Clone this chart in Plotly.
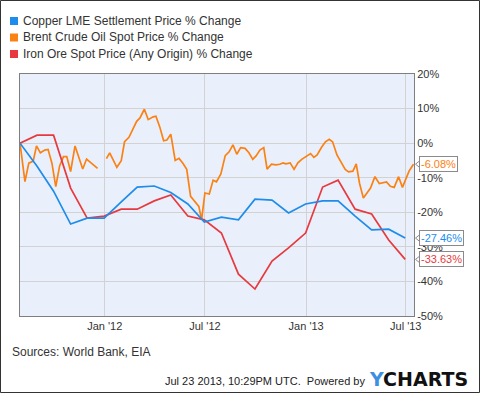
import plotly.graph_objects as go

# ---------------- data ----------------
series_names = [
    "Copper LME Settlement Price % Change",
    "Brent Crude Oil Spot Price % Change",
    "Iron Ore Spot Price (Any Origin) % Change",
]
series_colors = ["#1e8ceb", "#fb8113", "#e7393e"]

monthly_dates = [
    "2011-07-31", "2011-08-31", "2011-09-30", "2011-10-31", "2011-11-30", "2011-12-31",
    "2012-01-31", "2012-02-29", "2012-03-31", "2012-04-30", "2012-05-31", "2012-06-30",
    "2012-07-31", "2012-08-31", "2012-09-30", "2012-10-31", "2012-11-30", "2012-12-31",
    "2013-01-31", "2013-02-28", "2013-03-31", "2013-04-30", "2013-05-31", "2013-06-30",
]
copper_pct = [
    0.0, -6.7, -13.9, -23.4, -21.7, -21.7, -17.0, -12.7, -12.4, -14.3, -17.6, -22.8,
    -21.4, -22.2, -16.2, -16.5, -20.2, -17.6, -16.7, -16.7, -21.1, -25.1, -24.9, -27.46,
]
iron_pct = [
    0.0, 2.3, 2.3, -13.0, -21.7, -21.1, -19.1, -19.1, -16.7, -15.0, -21.1, -22.2,
    -26.0, -37.9, -42.2, -34.1, -30.3, -26.0, -12.7, -10.7, -19.1, -20.5, -28.0, -33.63,
]

brent_dates = [
    "2011-07-31", "2011-08-09", "2011-08-16", "2011-08-24", "2011-08-30", "2011-09-06",
    "2011-09-14", "2011-09-20", "2011-09-27", "2011-10-04", "2011-10-11", "2011-10-18",
    "2011-10-24", "2011-10-31", "2011-11-08", "2011-11-15", "2011-11-22", "2011-11-29",
    "2011-12-08", "2011-12-19", "2011-12-27",
    "2012-01-04", "2012-01-10", "2012-01-23", "2012-01-31", "2012-02-06", "2012-02-14",
    "2012-02-28", "2012-03-05", "2012-03-13", "2012-03-20", "2012-03-29", "2012-04-03",
    "2012-04-10", "2012-04-17", "2012-04-23", "2012-04-30", "2012-05-08", "2012-05-15",
    "2012-05-22", "2012-05-29", "2012-06-05", "2012-06-13", "2012-06-20", "2012-06-25",
    "2012-07-01", "2012-07-09", "2012-07-16", "2012-07-22", "2012-07-30", "2012-08-07",
    "2012-08-14", "2012-08-21", "2012-08-28", "2012-09-04", "2012-09-12", "2012-09-19",
    "2012-09-26", "2012-10-02", "2012-10-09", "2012-10-16", "2012-10-22", "2012-10-30",
    "2012-11-07", "2012-11-14", "2012-11-20", "2012-11-25", "2012-12-03", "2012-12-10",
    "2012-12-17", "2012-12-24", "2013-01-01", "2013-01-09", "2013-01-15", "2013-01-21",
    "2013-01-29", "2013-02-05", "2013-02-12", "2013-02-18", "2013-02-26", "2013-03-06",
    "2013-03-13", "2013-03-19", "2013-03-27", "2013-04-02", "2013-04-08", "2013-04-15",
    "2013-04-22", "2013-04-28", "2013-05-06", "2013-05-14", "2013-05-27", "2013-06-03",
    "2013-06-10", "2013-06-18", "2013-06-25", "2013-07-07", "2013-07-15",
]
brent_pct = [
    0.0, -11.1, -5.8, -5.2, -0.8, -2.8,
    -2.0, -1.8, -5.8, -12.6, -6.6, -3.9,
    -3.9, -8.2, -0.8, -3.9, -7.5, -4.6,
    -5.8, -7.3, None,
    -4.5, -2.8, -7.0, -5.1, 0.4, 1.7,
    6.3, 7.3, 9.8, 6.8, 7.6, 7.8,
    4.7, 0.7, 0.9, 2.6, -5.0, -4.4,
    -5.8, -7.6, -15.4, -17.0, -18.3, -22.2,
    -14.4, -14.7, -10.7, -11.2, -8.9, -3.6,
    -2.5, -0.5, -3.2, -1.3, -1.5, -2.8,
    -4.7, -3.7, -2.0, -1.3, -7.5, -6.1,
    -6.3, -6.1, -5.7, -6.0, -5.7, -7.6,
    -5.7, -4.7, -3.9, -3.0, -4.1, -3.4,
    -1.2, 0.4, 1.1, 0.4, -3.4, -5.8,
    -7.6, -8.3, -8.1, -6.0, -11.6, -15.9,
    -14.4, -13.0, -9.7, -11.7, -11.2, -12.5,
    -12.8, -9.7, -12.8, -8.1, -6.08,
]

y_ticks = [20, 10, 0, -10, -20, -30, -40, -50]
x_tick_dates = ["2012-01-01", "2012-07-01", "2013-01-01", "2013-07-01"]
x_tick_labels = ["Jan '12", "Jul '12", "Jan '13", "Jul '13"]
source_text = "Sources: World Bank, EIA"
footer_text = "Jul 23 2013, 10:29PM UTC.  Powered by"

# ---------------- layout geometry ----------------
W, H = 480, 393
ML, MR, MT, MB = 20, 66, 74, 77
PW, PH = W - ML - MR, H - MT - MB
FONT = "Liberation Sans, Arial, sans-serif"


def px(xp):
    return (xp - ML) / PW


def py(yp):
    return (H - MB - yp) / PH


fig = go.Figure()
series = [
    (monthly_dates, copper_pct),
    (brent_dates, brent_pct),
    (monthly_dates, iron_pct),
]
# draw order: brent under, then iron, copper
for i in [1, 2, 0]:
    xs, ys = series[i]
    fig.add_trace(go.Scatter(
        x=xs, y=ys, mode="lines", name=series_names[i],
        line=dict(color=series_colors[i], width=1.7),
        connectgaps=False, showlegend=False,
    ))

shapes = []
annotations = []

# custom legend (square swatches + labels)
legend_y = [21, 37.5, 54]
for i, name in enumerate(series_names):
    yc = legend_y[i]
    shapes.append(dict(type="rect", xref="paper", yref="paper",
                       x0=px(10), x1=px(18), y0=py(yc + 4), y1=py(yc - 4),
                       fillcolor=series_colors[i], line=dict(width=0)))
    annotations.append(dict(text=name, xref="paper", yref="paper",
                            x=px(21), y=py(yc), xanchor="left", yanchor="middle",
                            showarrow=False, font=dict(family=FONT, size=12, color="#333333")))

# end-value callouts
last_vals = [copper_pct[-1], brent_pct[-1], iron_pct[-1]]
for i, v in enumerate(last_vals):
    annotations.append(dict(text=f"{v:.2f}%", xref="paper", yref="y",
                            x=1, y=v, xanchor="left", yanchor="middle", xshift=5,
                            showarrow=False, bgcolor="white", bordercolor="#8a8a8a",
                            borderwidth=1, borderpad=1,
                            font=dict(family=FONT, size=11, color=series_colors[i])))
    # pointer caret
    dy = 4 * 70 / PH  # 4 px in data units
    shapes.append(dict(type="path", xref="paper", yref="y",
                       path=f"M {px(420.5)},{v + dy} L {px(415.5)},{v} L {px(420.5)},{v - dy} Z",
                       fillcolor="white", line=dict(color="#8a8a8a", width=1)))

# outer frame
shapes.append(dict(type="rect", xref="paper", yref="paper",
                   x0=px(0.5), x1=px(479.5), y0=py(392.5), y1=py(0.5),
                   line=dict(color="#333333", width=1), fillcolor="rgba(0,0,0,0)", layer="below"))

annotations.append(dict(text=source_text, xref="paper", yref="paper",
                        x=px(10), y=py(352), xanchor="left", yanchor="middle",
                        showarrow=False, font=dict(family=FONT, size=12, color="#333333")))
annotations.append(dict(text=footer_text, xref="paper", yref="paper",
                        x=px(367), y=py(380.5), xanchor="right", yanchor="middle",
                        showarrow=False, font=dict(family=FONT, size=11, color="#222222")))
annotations.append(dict(text="<b><span style='color:#3d8fe0'>Y</span>CHARTS</b>",
                        xref="paper", yref="paper",
                        x=px(367), y=py(379), xanchor="left", yanchor="middle",
                        showarrow=False,
                        font=dict(family="DejaVu Sans, sans-serif", size=19, color="#111111")))

fig.update_layout(
    width=W, height=H,
    margin=dict(l=ML, r=MR, t=MT, b=MB, pad=0),
    paper_bgcolor="white",
    plot_bgcolor="#e9f0fc",
    showlegend=False,
    shapes=shapes,
    annotations=annotations,
    font=dict(family=FONT, size=11, color="#333333"),
    xaxis=dict(
        type="date",
        range=["2011-07-31", "2013-07-16"],
        tickvals=x_tick_dates, ticktext=x_tick_labels,
        showgrid=True, gridcolor="#d2d2d2", gridwidth=1,
        showline=True, linecolor="#7f7f7f", linewidth=1, mirror=True,
        ticks="", zeroline=False,
        tickfont=dict(family=FONT, size=11, color="#333333"),
    ),
    yaxis=dict(
        side="right",
        range=[-50, 20],
        tickvals=y_ticks, ticktext=[f"{t}%" for t in y_ticks],
        showgrid=True, gridcolor="#d2d2d2", gridwidth=1,
        showline=True, linecolor="#7f7f7f", linewidth=1, mirror=True,
        ticks="", zeroline=False,
        tickfont=dict(family=FONT, size=11, color="#333333"),
    ),
)

fig.write_html(
    "out.html",
    config={"displayModeBar": False},
    post_script="document.body.style.margin='0';document.body.style.overflow='hidden';",
)
